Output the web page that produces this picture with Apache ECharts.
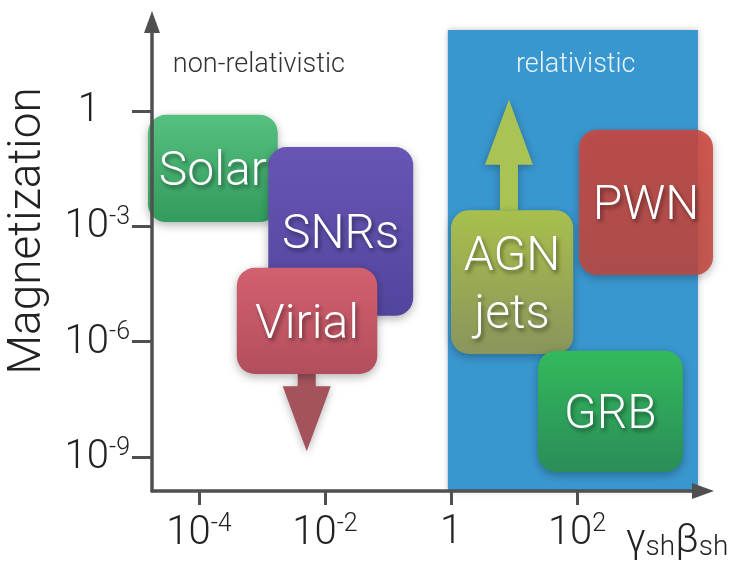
<!DOCTYPE html>
<html>
<head>
<meta charset="utf-8">
<script src="https://cdn.jsdelivr.net/npm/echarts@6/dist/echarts.min.js"></script>
<style>
  html, body { margin: 0; padding: 0; background: #fff; }
  #chart { width: 752px; height: 568px; }
</style>
</head>
<body>
<div id="chart"></div>
<script>
// every position below is a log10 value (x: gamma*beta, y: magnetization)
const xTicks = [-4, -2, 0, 2];
const yTicks = [0, -3, -6, -9];

const boxNames = ['Solar', 'SNRs', 'Virial', 'AGN\njets', 'PWN', 'GRB'];
const boxXFrom = [-4.81, -2.90, -3.40, 0.00, 2.03, 1.38];
const boxXTo   = [-2.75, -0.60, -1.17, 1.94, 4.16, 3.68];
const boxYTop  = [-0.10, -0.94, -4.08, -2.58, -0.49, -6.24];
const boxYBot  = [-2.89, -5.33, -6.84, -6.32, -4.27, -9.39];

// limits drawn as arrows: x, start, tip
const arrowNames = ['Virial', 'AGN jets'];
const arrowX    = [-2.29, 0.92];
const arrowFrom = [-6.84, -2.58];
const arrowTo   = [-8.85, 0.29];

// relativistic band
const bandX = [-0.05, 3.92];
const bandTop = 2.11;

const zoneNames = ['non-relativistic', 'relativistic'];
const zoneX = [-3.05, 1.98];
const zoneY = [1.2, 1.2];

const X_MIN = -4.746, X_MAX = 4.0;
const Y_MIN = -9.886, Y_MAX = 2.315;

const boxColors = [
  ['#55c07f', '#339b5d'],
  ['#6855b4', '#52459d'],
  ['#d3606f', '#b24e5c'],
  ['rgba(172,194,74,0.97)', 'rgba(140,150,90,0.97)'],
  ['rgba(205,70,62,0.88)', 'rgba(190,72,64,0.88)'],
  ['#33b95c', '#2a8d58']
];
const arrowColors = ['#a4535c', '#a9c455'];

const FONT = 'Roboto, "Liberation Sans", sans-serif';

function powLabel(v, one) {
  if (v === 0) return '{' + one + '|1}';
  return '{b|10}{s|' + v + '}';
}

const tickRich = {
  b: { fontSize: 40, lineHeight: 42, fontFamily: FONT, fontWeight: 300, color: '#222', verticalAlign: 'bottom' },
  s: { fontSize: 25, lineHeight: 26, fontFamily: FONT, fontWeight: 300, color: '#222', verticalAlign: 'top' },
  one: { fontSize: 40, lineHeight: 42, fontFamily: FONT, fontWeight: 300, color: '#222' },
  oneY: { fontSize: 40, lineHeight: 42, fontFamily: FONT, fontWeight: 300, color: '#222', padding: [0, 30, 0, 0] }
};

function axisLine() {
  return {
    show: true,
    onZero: false,
    symbol: ['none', 'triangle'],
    symbolSize: [16, 22],
    symbolOffset: [0, 0],
    lineStyle: { color: '#505050', width: 3.5 }
  };
}

const chart = echarts.init(document.getElementById('chart'));

chart.setOption({
  backgroundColor: '#fff',
  animation: false,
  grid: { left: 152, right: 49, top: 22, bottom: 77, containLabel: false, outerBoundsMode: 'none' },
  xAxis: {
    type: 'value', min: X_MIN, max: X_MAX, z: 10,
    axisLine: axisLine(),
    axisTick: { show: true, customValues: xTicks, length: 14, lineStyle: { color: '#505050', width: 3 } },
    axisLabel: { customValues: xTicks, margin: 21, formatter: v => powLabel(v, 'one'), rich: tickRich },
    splitLine: { show: false }
  },
  yAxis: {
    type: 'value', min: Y_MIN, max: Y_MAX, z: 10,
    axisLine: axisLine(),
    axisTick: { show: true, customValues: yTicks, length: 20, lineStyle: { color: '#505050', width: 3 } },
    axisLabel: { customValues: yTicks, margin: 22, formatter: v => powLabel(v, 'oneY'), rich: tickRich },
    splitLine: { show: false }
  },
  graphic: [{
    type: 'text', x: 28, y: 231, rotation: Math.PI / 2,
    style: {
      text: 'Magnetization', fontSize: 46, fontWeight: 300, fontFamily: FONT,
      fill: '#222', align: 'center', verticalAlign: 'middle'
    }
  }, {
    type: 'text', left: 626, top: 522,
    style: {
      text: '{g|γ}{s|sh}{g|β}{s|sh}',
      rich: {
        g: { fontSize: 40, lineHeight: 46, fontFamily: FONT, fontWeight: 300, fill: '#222', verticalAlign: 'bottom' },
        s: { fontSize: 28, lineHeight: 36, fontFamily: FONT, fontWeight: 300, fill: '#222', verticalAlign: 'bottom' }
      }
    }
  }],
  series: [
    {
      type: 'custom', name: 'band', z: 1,
      data: [[bandX[0], bandX[1], bandTop, Y_MIN]],
      encode: { x: [0, 1], y: [2, 3] },
      renderItem: (params, api) => {
        const p0 = api.coord([api.value(0), api.value(2)]);
        const p1 = api.coord([api.value(1), api.value(3)]);
        return {
          type: 'rect',
          shape: { x: p0[0], y: p0[1], width: p1[0] - p0[0], height: p1[1] - p0[1] },
          style: { fill: '#3997cf', shadowBlur: 6, shadowColor: 'rgba(0,0,0,0.25)' }
        };
      }
    },
    {
      type: 'custom', name: 'zones', z: 2,
      data: zoneNames.map((n, i) => [zoneX[i], zoneY[i]]),
      renderItem: (params, api) => {
        const p = api.coord([api.value(0), api.value(1)]);
        return {
          type: 'text', x: p[0], y: p[1],
          style: {
            text: zoneNames[params.dataIndex], fontSize: 27, fontWeight: 300, fontFamily: FONT,
            fill: params.dataIndex === 0 ? '#333' : '#e8f3fa', align: 'center', verticalAlign: 'middle'
          }
        };
      }
    },
    {
      type: 'custom', name: 'limits', z: 3,
      data: arrowNames.map((n, i) => [arrowX[i], arrowFrom[i], arrowTo[i]]),
      encode: { x: 0, y: [1, 2] },
      renderItem: (params, api) => {
        const b = api.coord([api.value(0), api.value(1)]);
        const t = api.coord([api.value(0), api.value(2)]);
        const dir = t[1] > b[1] ? 1 : -1;
        const hb = t[1] - dir * 65;
        const sw = 9, hw = 24;
        return {
          type: 'polygon',
          shape: { points: [
            [b[0] - sw, b[1]], [b[0] + sw, b[1]], [b[0] + sw, hb], [b[0] + hw, hb],
            [t[0], t[1]], [b[0] - hw, hb], [b[0] - sw, hb]
          ] },
          style: { fill: arrowColors[params.dataIndex], shadowBlur: 8, shadowColor: 'rgba(0,0,0,0.3)', shadowOffsetY: 2 }
        };
      }
    },
    {
      type: 'custom', name: 'sources', z: 4,
      data: boxNames.map((n, i) => [boxXFrom[i], boxXTo[i], boxYTop[i], boxYBot[i]]),
      encode: { x: [0, 1], y: [2, 3] },
      renderItem: (params, api) => {
        const i = params.dataIndex;
        const p0 = api.coord([api.value(0), api.value(2)]);
        const p1 = api.coord([api.value(1), api.value(3)]);
        const c = boxColors[i];
        return {
          type: 'rect',
          shape: { x: p0[0], y: p0[1], width: p1[0] - p0[0], height: p1[1] - p0[1], r: 18 },
          style: {
            fill: new echarts.graphic.LinearGradient(0, 0, 0, 1, [
              { offset: 0, color: c[0] }, { offset: 1, color: c[1] }
            ]),
            shadowBlur: 10, shadowColor: 'rgba(0,0,0,0.3)', shadowOffsetY: 3
          },
          textContent: {
            style: {
              text: boxNames[i], fill: '#fff', fontSize: 48, fontWeight: 300, lineHeight: 58,
              fontFamily: FONT, align: 'center',
              textShadowColor: 'rgba(0,0,0,0.45)', textShadowBlur: 4, textShadowOffsetX: 2, textShadowOffsetY: 3
            }
          },
          textConfig: { position: 'inside', offset: [0, 5] }
        };
      }
    }
  ]
});

window.addEventListener('resize', function () {
  chart.resize();
});
</script>
</body>
</html>
